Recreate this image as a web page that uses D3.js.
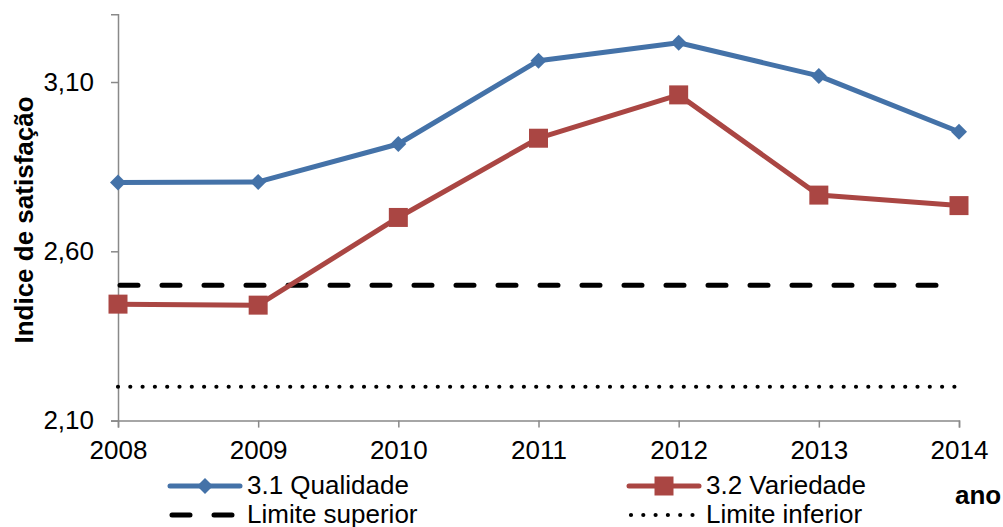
<!DOCTYPE html>
<html>
<head>
<meta charset="utf-8">
<script src="https://cdn.jsdelivr.net/npm/d3@7"></script>
<style>
  body { margin: 0; background: #fff; }
  text { font-family: Arial, "Liberation Sans", sans-serif; }
</style>
</head>
<body>
<script>
// data
var anos = ["2008", "2009", "2010", "2011", "2012", "2013", "2014"];
var qualidade = [2.803, 2.805, 2.917, 3.163, 3.216, 3.118, 2.953];
var variedade = [2.444, 2.441, 2.700, 2.934, 3.062, 2.766, 2.735];
var limiteSuperior = [2.50, 2.50, 2.50, 2.50, 2.50, 2.50, 2.50];
var limiteInferior = [2.20, 2.20, 2.20, 2.20, 2.20, 2.20, 2.20];
var yTicks = [2.10, 2.60, 3.10];

var blue = "#4472a8", red = "#aa4643", axisColor = "#898989";

var svg = d3.select("body").append("svg")
    .attr("width", 1003)
    .attr("height", 527);

// set the ranges
var x = d3.scalePoint()
    .domain(anos)
    .range([118, 959]);
var y = d3.scaleLinear()
    .domain([2.10, 3.30])
    .range([420.6, 14.3]);

var fmt = function(d) { return d3.format(".2f")(d).replace(".", ","); };

// y axis
var yAxis = svg.append("g")
    .attr("transform", "translate(118,0)")
    .call(d3.axisLeft(y).tickValues(yTicks).tickFormat(fmt).tickSizeOuter(0).tickSize(7).tickPadding(17));
yAxis.select(".domain").attr("stroke", axisColor).attr("stroke-width", 1.5);
yAxis.selectAll(".tick line").attr("stroke", axisColor).attr("stroke-width", 1.5);
yAxis.selectAll(".tick text")
    .attr("font-size", "26px")
    .attr("fill", "#000")
    .style("font-family", "Arial, 'Liberation Sans', sans-serif");

// x axis
var xAxis = svg.append("g")
    .attr("transform", "translate(0," + y(2.10) + ")")
    .call(d3.axisBottom(x).tickSizeOuter(0).tickSize(7).tickPadding(13));
xAxis.select(".domain").attr("stroke", axisColor).attr("stroke-width", 1.5);
xAxis.selectAll(".tick line").attr("stroke", axisColor).attr("stroke-width", 1.5);
xAxis.selectAll(".tick text")
    .attr("font-size", "26px")
    .attr("fill", "#000")
    .style("font-family", "Arial, 'Liberation Sans', sans-serif");

var line = d3.line()
    .x(function(d, i) { return x(anos[i]); })
    .y(function(d) { return y(d); });

// limit lines
svg.append("path")
    .datum(limiteInferior)
    .attr("d", line)
    .attr("fill", "none")
    .attr("stroke", "#000")
    .attr("stroke-width", 4.2)
    .attr("stroke-linecap", "round")
    .attr("stroke-dasharray", "0,12.3");

svg.append("path")
    .datum(limiteSuperior)
    .attr("d", line)
    .attr("fill", "none")
    .attr("stroke", "#000")
    .attr("stroke-width", 5)
    .attr("stroke-linecap", "round")
    .attr("stroke-dasharray", "18,24")
    .attr("stroke-dashoffset", -2);

// series lines
svg.append("path")
    .datum(qualidade)
    .attr("d", line)
    .attr("fill", "none")
    .attr("stroke", blue)
    .attr("stroke-width", 5)
    .attr("stroke-linejoin", "round");

svg.append("path")
    .datum(variedade)
    .attr("d", line)
    .attr("fill", "none")
    .attr("stroke", red)
    .attr("stroke-width", 5)
    .attr("stroke-linejoin", "round");

var diamond = d3.symbol().type(d3.symbolSquare).size(128);
var square = d3.symbol().type(d3.symbolSquare).size(361);

svg.selectAll(".ponto-q")
    .data(qualidade)
    .enter().append("path")
    .attr("class", "ponto-q")
    .attr("d", diamond)
    .attr("fill", blue)
    .attr("transform", function(d, i) { return "translate(" + x(anos[i]) + "," + y(d) + ") rotate(45)"; });

svg.selectAll(".ponto-v")
    .data(variedade)
    .enter().append("path")
    .attr("class", "ponto-v")
    .attr("d", square)
    .attr("fill", red)
    .attr("transform", function(d, i) { return "translate(" + x(anos[i]) + "," + y(d) + ")"; });

// axis titles
svg.append("text")
    .attr("transform", "translate(33,220) rotate(-90)")
    .attr("text-anchor", "middle")
    .attr("font-size", "26px")
    .attr("font-weight", "bold")
    .text("Indice de satisfação");

svg.append("text")
    .attr("x", 955)
    .attr("y", 504)
    .attr("font-size", "26px")
    .attr("font-weight", "bold")
    .text("ano");

// legend
var legend = [
  {name: "3.1 Qualidade", x: 170, y: 486, kind: "q"},
  {name: "3.2 Variedade", x: 629, y: 486, kind: "v"},
  {name: "Limite superior", x: 170, y: 515, kind: "s"},
  {name: "Limite inferior", x: 629, y: 515, kind: "i"}
];

var leg = svg.selectAll(".legend")
    .data(legend)
    .enter().append("g")
    .attr("class", "legend")
    .attr("transform", function(d) { return "translate(" + d.x + "," + d.y + ")"; });

leg.append("line")
    .attr("x1", 0).attr("x2", 70)
    .attr("stroke", function(d) { return d.kind == "q" ? blue : d.kind == "v" ? red : "#000"; })
    .attr("stroke-width", function(d) { return d.kind == "i" ? 4.2 : 5; })
    .attr("stroke-linecap", "round")
    .attr("stroke-dasharray", function(d) { return d.kind == "s" ? "18,24" : d.kind == "i" ? "0,12.3" : null; })
    .attr("transform", function(d) { return d.kind == "s" ? "translate(2,0)" : d.kind == "i" ? "translate(2,0)" : null; });

leg.filter(function(d) { return d.kind == "q"; }).append("path")
    .attr("d", diamond)
    .attr("fill", blue)
    .attr("transform", "translate(35,0) rotate(45)");

leg.filter(function(d) { return d.kind == "v"; }).append("path")
    .attr("d", square)
    .attr("fill", red)
    .attr("transform", "translate(35,0)");

leg.append("text")
    .attr("x", 77)
    .attr("y", 8)
    .attr("font-size", "26px")
    .text(function(d) { return d.name; });
</script>
</body>
</html>
